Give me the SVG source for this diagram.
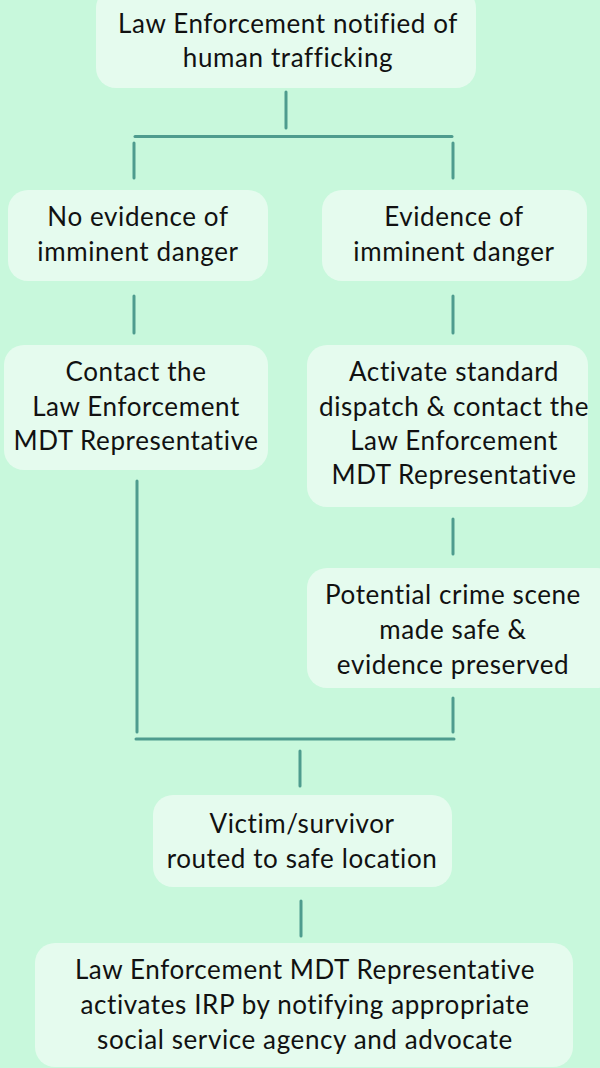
<svg xmlns="http://www.w3.org/2000/svg" width="600" height="1068" viewBox="0 0 600 1068">
<style>
.bg{fill:#c8f8dc}
.box{fill:#e5fbee}
.t{font-family:Lato,"Liberation Sans",sans-serif;font-size:26px;font-weight:400;letter-spacing:0.6px;fill:#111;text-anchor:middle}
.c line{stroke:#4e9c8e;stroke-width:3;stroke-linecap:round}
</style>
<rect class="bg" x="0" y="0" width="600" height="1068"/>
<g id="n1"><rect class="box" x="96" y="-12" width="380" height="100" rx="20"/>
<text class="t" x="288" y="33">Law Enforcement notified of</text>
<text class="t" x="288" y="67">human trafficking</text></g>
<g id="n2"><rect class="box" x="8" y="190" width="260" height="91" rx="20"/>
<text class="t" x="138" y="226">No evidence of</text>
<text class="t" x="138" y="261">imminent danger</text></g>
<g id="n3"><rect class="box" x="322" y="190" width="265" height="91" rx="20"/>
<text class="t" x="454" y="226">Evidence of</text>
<text class="t" x="454" y="261">imminent danger</text></g>
<g id="n4"><rect class="box" x="4" y="345" width="264" height="125" rx="20"/>
<text class="t" x="136" y="381">Contact the</text>
<text class="t" x="136" y="416">Law Enforcement</text>
<text class="t" x="136" y="450">MDT Representative</text></g>
<g id="n5"><rect class="box" x="307" y="345" width="281" height="162" rx="20"/>
<text class="t" x="454" y="381">Activate standard</text>
<text class="t" x="454" y="416">dispatch &amp; contact the</text>
<text class="t" x="454" y="450">Law Enforcement</text>
<text class="t" x="454" y="484">MDT Representative</text></g>
<g id="n6"><rect class="box" x="307" y="568" width="310" height="120" rx="20"/>
<text class="t" x="453" y="604">Potential crime scene</text>
<text class="t" x="453" y="639">made safe &amp;</text>
<text class="t" x="453" y="674">evidence preserved</text></g>
<g id="n7"><rect class="box" x="153" y="795" width="299" height="92" rx="20"/>
<text class="t" x="302" y="833">Victim/survivor</text>
<text class="t" x="302" y="868">routed to safe location</text></g>
<g id="n8"><rect class="box" x="35" y="943" width="538" height="124" rx="20"/>
<text class="t" x="305" y="979">Law Enforcement MDT Representative</text>
<text class="t" x="305" y="1014">activates IRP by notifying appropriate</text>
<text class="t" x="305" y="1049">social service agency and advocate</text></g>
<g id="connectors" class="c">
<line x1="286" y1="92" x2="286" y2="128"/>
<line x1="135" y1="136.5" x2="452" y2="136.5"/>
<line x1="134" y1="143" x2="134" y2="178"/>
<line x1="453" y1="143" x2="453" y2="178"/>
<line x1="134" y1="296" x2="134" y2="333"/>
<line x1="453" y1="296" x2="453" y2="333"/>
<line x1="137" y1="481" x2="137" y2="732"/>
<line x1="453" y1="519" x2="453" y2="554"/>
<line x1="453" y1="698" x2="453" y2="732"/>
<line x1="136" y1="739" x2="454" y2="739"/>
<line x1="300" y1="751" x2="300" y2="786"/>
<line x1="301" y1="901" x2="301" y2="936"/>
</g>
</svg>
